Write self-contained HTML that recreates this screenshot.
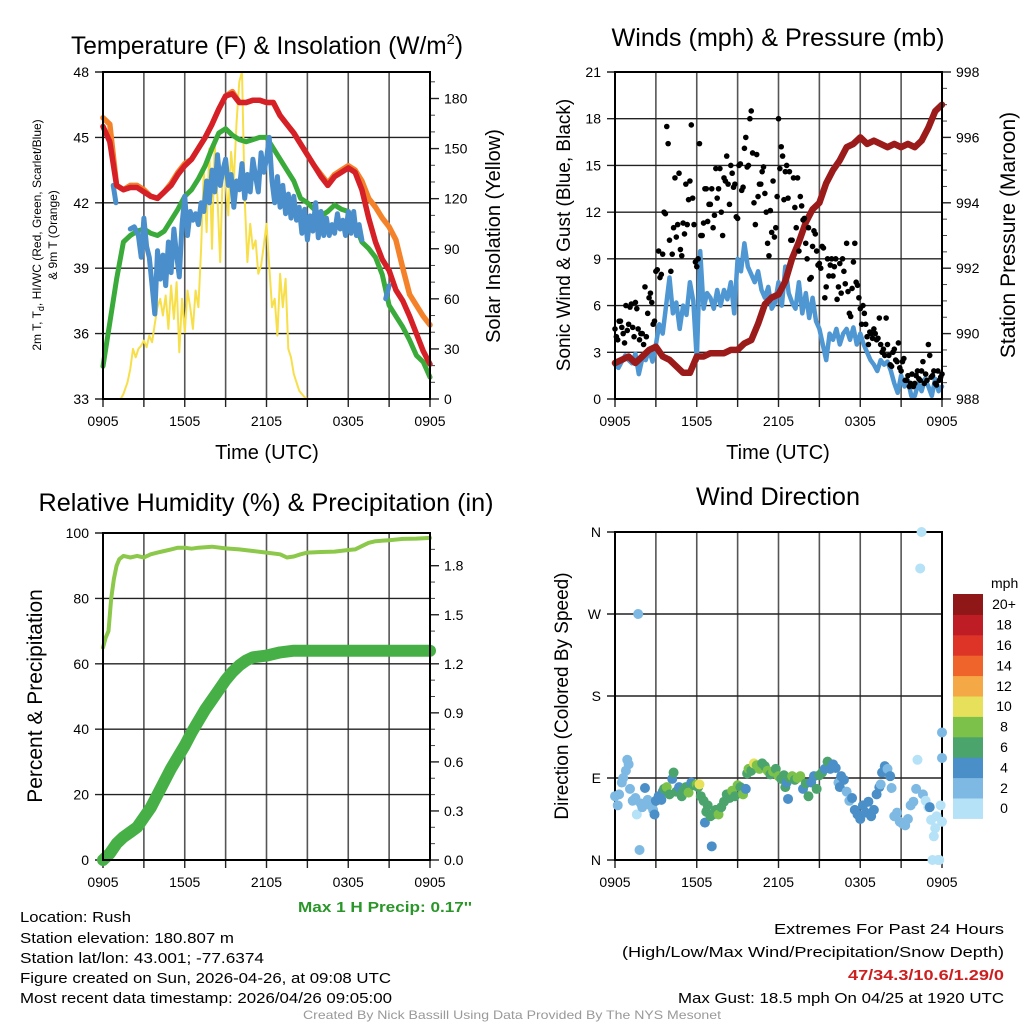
<!DOCTYPE html>
<html><head><meta charset="utf-8"><style>
html,body{margin:0;padding:0;background:#fff}
svg{display:block;font-family:"Liberation Sans",sans-serif}
</style></head><body>
<svg id="fig" width="1024" height="1024" viewBox="0 0 1024 1024" xmlns="http://www.w3.org/2000/svg">
<rect width="1024" height="1024" fill="#fff"/>
<g id="p1"></g>
<g id="p2"></g>
<g id="p3"></g>
<g id="p4"></g>
<g font-size="15">
<text x="472" y="912" text-anchor="end" fill="#2a962a" font-weight="bold" textLength="174" lengthAdjust="spacingAndGlyphs">Max 1 H Precip: 0.17''</text>
<text x="20" y="922" textLength="111" lengthAdjust="spacingAndGlyphs">Location: Rush</text>
<text x="20" y="943" textLength="214" lengthAdjust="spacingAndGlyphs">Station elevation: 180.807 m</text>
<text x="20" y="963" textLength="244" lengthAdjust="spacingAndGlyphs">Station lat/lon: 43.001; -77.6374</text>
<text x="20" y="983" textLength="371" lengthAdjust="spacingAndGlyphs">Figure created on Sun, 2026-04-26, at 09:08 UTC</text>
<text x="20" y="1003" textLength="372" lengthAdjust="spacingAndGlyphs">Most recent data timestamp: 2026/04/26 09:05:00</text>
<text x="1004" y="934" text-anchor="end" textLength="230" lengthAdjust="spacingAndGlyphs">Extremes For Past 24 Hours</text>
<text x="1004" y="957" text-anchor="end" textLength="382" lengthAdjust="spacingAndGlyphs">(High/Low/Max Wind/Precipitation/Snow Depth)</text>
<text x="1004" y="980" text-anchor="end" fill="#cc2020" font-weight="bold" textLength="156" lengthAdjust="spacingAndGlyphs">47/34.3/10.6/1.29/0</text>
<text x="1004" y="1003" text-anchor="end" textLength="326" lengthAdjust="spacingAndGlyphs">Max Gust: 18.5 mph On 04/25 at 1920 UTC</text>
<text x="512" y="1019" text-anchor="middle" fill="#999" font-size="12" textLength="418" lengthAdjust="spacingAndGlyphs">Created By Nick Bassill Using Data Provided By The NYS Mesonet</text>
</g>
</svg>
<script>
// ---------- data ----------
const timeTicks = ["0905","1505","2105","0305","0905"];
const tHalf = [0,0.5,1,1.5,2,2.5,3,3.5,4,4.5,5,5.5,6,6.5,7,7.5,8,8.5,9,9.5,10,10.5,11,11.5,12,12.5,13,13.5,14,14.5,15,15.5,16,16.5,17,17.5,18,18.5,19,19.5,20,20.5,21,21.5,22,22.5,23,23.5,24];
const tempRed = [45.5,44.8,42.8,42.6,42.7,42.7,42.5,42.3,42.2,42.5,42.8,43.3,43.7,44.0,44.5,45.0,45.6,46.3,46.9,47.0,46.6,46.6,46.7,46.7,46.6,46.6,46.0,45.6,45.2,44.7,44.2,43.7,43.2,42.8,43.2,43.4,43.6,43.4,42.6,41.3,40.2,39.4,38.9,38.0,37.5,36.8,36.0,35.2,34.6];
const tempOrange = [45.9,45.6,42.8,42.6,42.8,42.8,42.6,42.3,42.2,42.5,42.9,43.4,43.8,44.0,44.5,45.0,45.6,46.3,46.9,47.1,46.6,46.6,46.7,46.7,46.6,46.6,46.0,45.6,45.2,44.7,44.2,43.7,43.3,42.9,43.3,43.5,43.7,43.5,43.0,42.2,41.8,41.3,40.9,40.3,39.0,37.8,37.3,36.8,36.4];
const dewGreen = [34.5,36.5,38.5,40.2,40.5,40.7,40.8,40.6,40.5,40.7,41.2,41.7,42.3,42.6,43.1,43.7,44.5,45.2,45.4,45.1,44.9,44.8,44.9,45.0,45.0,44.5,44.0,43.5,43.0,42.2,42.0,41.7,41.4,41.6,41.9,41.7,41.6,41.0,40.2,39.9,39.5,38.7,37.3,36.8,36.3,35.7,35.0,34.7,34.0];
const blueT = [0.75,0.85,0.95,null,2.0,2.3,2.6,2.8,3.0,3.2,3.4,3.6,3.8,4.0,4.2,4.4,4.6,4.8,5.0,5.2,5.4,5.6,5.8,6.0,6.2,6.4,6.6,6.8,7.0,7.2,7.4,7.6,7.8,8.0,8.2,8.4,8.6,8.8,9.0,9.2,9.4,9.6,9.8,10.0,10.2,10.4,10.6,10.8,11.0,11.2,11.4,11.6,11.8,12.0,12.2,12.4,12.6,12.8,13.0,13.2,13.4,13.6,13.8,14.0,14.2,14.4,14.6,14.8,15.0,15.2,15.4,15.6,15.8,16.0,16.2,16.4,16.6,16.8,17.0,17.2,17.4,17.6,17.8,18.0,18.2,18.4,18.6,18.8,19.0,null,20.75,21.0];
const blueV = [42.8,42.4,42.0,null,40.8,40.9,40.5,39.5,41.3,40.0,39.5,38.2,36.9,39.8,38.5,39.6,38.2,40.2,38.8,40.8,39.6,38.6,41.0,42.3,40.5,41.6,41.2,41.5,41.0,42.0,41.6,43.0,42.0,43.5,42.5,44.2,42.8,43.5,44.0,42.8,43.3,41.8,43.0,42.6,43.8,42.2,43.3,42.5,44.0,43.2,42.5,44.3,43.4,44.0,45.0,43.0,42.0,43.2,41.8,42.8,41.5,42.4,41.3,42.3,41.2,41.8,40.6,41.7,40.3,41.4,40.7,42.0,40.4,41.6,40.5,41.3,40.5,41.0,40.6,41.5,40.8,41.2,40.5,41.6,40.6,41.6,40.5,41.0,40.3,null,37.6,38.2];
const solarT = [0,1.3,1.5,1.8,2.0,2.2,2.4,2.6,2.8,3.0,3.2,3.4,3.6,3.8,4.0,4.2,4.4,4.6,4.8,5.0,5.2,5.4,5.6,5.8,6.0,6.2,6.4,6.6,6.8,7.0,7.2,7.4,7.6,7.8,8.0,8.2,8.4,8.6,8.8,9.0,9.2,9.4,9.6,9.8,10.0,10.2,10.4,10.6,10.8,11.0,11.2,11.4,11.6,11.8,12.0,12.2,12.4,12.6,12.8,13.0,13.2,13.4,13.6,13.8,14.0,14.4,14.8,15.0,24];
const solarV = [0,0,3,10,18,30,25,30,32,35,31,38,34,45,55,60,50,62,42,68,48,70,28,60,40,65,55,42,65,55,90,137,100,150,90,153,120,82,140,130,110,148,130,165,190,196,120,82,105,90,95,75,80,92,105,80,55,60,38,75,55,72,30,25,15,5,1,0,0];
const pressT = tHalf;
const pressV = [989.1,989.2,989.3,989.1,989.3,989.5,989.6,989.3,989.2,989.0,988.8,988.8,989.3,989.3,989.4,989.4,989.4,989.5,989.5,989.7,989.8,990.3,990.9,991.1,991.2,991.6,992.3,992.8,993.4,993.8,994.0,994.6,995.0,995.3,995.7,995.8,996.0,995.8,995.9,995.8,995.7,995.8,995.7,995.8,995.7,995.9,996.3,996.8,997.0];
const windV = [2.2,2.0,2.4,2.8, 2.5,2.3,2.9,1.6, 2.6,2.5,3.2,2.4, 3.5,4.8,4.2,6.0, 7.8,5.5,6.2,4.5, 6.0,5.4,7.5,6.3, 2.5,9.5,5.8,6.8, 6.5,5.8,7.0,6.0, 7.0,6.4,7.5,5.5, 9.0,8.2,10.0,8.5, 8.0,7.5,8.2,7.0, 6.5,7.2,5.8,6.2, 7.5,6.0,8.5,6.8, 6.2,5.8,7.5,5.5, 6.8,5.2,6.5,5.0, 4.5,3.5,2.5,4.2, 3.8,4.5,3.5,4.2, 4.5,3.8,4.6,3.5, 4.2,3.5,3.0,2.5, 2.2,1.8,2.5,2.2, 2.4,1.8,1.0,0.4, 1.5,0.8,1.2,0.2, 0.2,1.0,0.5,1.3, 0.8,0.2,1.3,0.5, 0.8];
const gustV = [4.5,3.8,5.0,4.2,6.0, 4.8,6.1,4.0,5.8,3.8, 4.2,7.2,5.5,6.8,4.8, 8.2,9.5,8.0,12.0,17.5, 10.2,9.3,14.2,11.2,9.6, 11.3,13.8,12.8,17.6,11.2, 8.5,16.4,10.5,13.5,11.4, 12.5,11.0,14.8,13.5,12.0, 14.2,15.6,12.5,14.5,13.8, 11.6,15.1,13.6,16.8,15.0, 18.5,12.6,15.7,13.8,14.6, 13.2,10.0,12.1,14.0,11.0, 18.0,16.2,12.8,15.0,14.6, 10.2,12.3,14.2,13.0,11.5, 10.0,11.0,7.8,10.8,9.5, 8.7,9.8,6.5,9.0,8.6, 7.9,9.0,7.2,6.8,8.2, 10.0,5.5,7.1,10.0,7.3, 5.8,6.0,4.8,3.5,4.2, 4.5,3.8,5.2,3.0,2.8, 3.5,2.2,3.0,2.5,3.6, 1.8,2.6,1.2,0.8,1.6, 1.0,1.8,1.2,2.4,1.6, 3.5,1.4,1.8,0.9,1.2, 1.6];
const gustV2 = [4.0,5.0,4.6,3.6,4.4, 5.9,4.6,6.2,4.5,4.2, 3.5,4.0,6.5,6.2,5.0, 8.3,7.8,9.3,11.9,16.4, 8.2,11.0,10.4,14.5,9.2, 10.6,11.2,14.0,12.9,8.8, 9.0,10.5,11.3,13.5,12.5, 13.5,11.8,12.9,14.8,10.5, 14.0,13.8,15.0,13.6,11.7, 15.0,13.4,16.1,14.9,18.0, 15.8,11.2,13.0,13.8,14.9, 12.0,9.2,10.7,10.4,13.0, 14.8,15.6,14.6,12.9,10.2, 14.2,11.0,9.5,12.4,11.6, 9.0,7.7,9.8,10.6,8.6, 8.4,9.7,7.2,7.9,9.0, 8.5,6.4,8.7,9.0,7.4, 6.9,5.3,8.8,7.5,6.5, 4.8,5.5,4.0,4.3,3.9, 4.2,3.9,3.5,3.2,5.2, 2.8,2.1,3.2,2.4,2.0, 2.4,1.2,1.5,1.0,0.8, 1.5,1.3,1.8,1.0,1.2, 2.8,1.5,1.0,1.8,1.4];
const rhT = [0,0.2,0.4,0.6,0.8,1.0,1.2,1.5,2,2.5,3,3.5,4,4.5,5,5.5,6,6.5,7,8,9,10,11,12,13,13.5,14,14.5,15,16,17,18,18.5,19,19.5,20,21,22,23,24];
const rhV = [65,68,70,80,86,90,92,93,92.5,93,92.5,93.5,94,94.5,95,95.5,95.5,95.2,95.5,95.8,95.3,95,94.5,94,93.5,92.5,92.8,93.5,94,94.2,94.3,94.8,95,96,97,97.5,97.8,98.2,98.3,98.5];
const precipT = [0,0.5,1,1.5,2,2.5,3,3.5,4,4.5,5,5.5,6,6.5,7,7.5,8,8.5,9,9.5,10,10.5,11,12,13,14,24];
const precipV = [0,0.04,0.1,0.14,0.17,0.2,0.26,0.32,0.4,0.48,0.56,0.63,0.7,0.78,0.85,0.92,0.98,1.04,1.1,1.15,1.19,1.22,1.24,1.25,1.27,1.28,1.28];
const dirT = [0.0,0.2,0.3,0.5,0.6,0.8,0.9,1.0,1.1,1.3,1.5,1.6,1.7,1.8,1.9,2.0,2.2,2.4,2.6,2.8,2.9,3.0,3.2,3.4,3.5,3.6,3.8,4.0,4.2,4.3,4.5,4.7,4.9,5.0,5.2,5.4,5.6,5.8,6.0,6.1,6.2,6.3,6.5,6.6,6.7,6.8,7.0,7.1,7.2,7.4,7.6,7.8,8.0,8.2,8.4,8.6,8.8,9.0,9.2,9.4,9.6,9.7,9.8,10.0,10.2,10.4,10.6,10.8,11.0,11.2,11.4,11.6,11.8,12.0,12.2,12.4,12.5,12.6,12.7,12.8,13.0,13.2,13.4,13.6,13.8,14.0,14.2,14.4,14.6,14.8,15.0,15.2,15.4,15.6,15.8,16.0,16.2,16.4,16.5,16.6,16.8,17.0,17.2,17.4,17.6,17.8,18.0,18.2,18.4,18.6,18.8,19.0,19.2,19.4,19.5,19.6,19.8,20.0,20.2,20.3,20.5,20.7,20.9,21.1,21.3,21.5,21.7,21.9,22.1,22.2,22.4,22.5,22.6,22.8,23.0,23.1,23.2,23.3,23.4,23.5,23.6,23.7,23.8,23.9,24.0,24.0,24.0];
const dirD = [70,60,72,85,90,98,110,105,78,65,68,50,270,11,62,58,79,66,60,55,50,65,70,66,75,78,80,72,89,96,75,80,70,76,80,74,85,82,83,80,83,70,65,41,53,60,48,15,50,55,50,58,64,72,68,76,70,82,80,72,78,95,100,98,106,104,100,106,103,98,94,97,100,92,89,93,80,85,67,90,92,88,90,92,78,84,70,85,92,78,93,96,100,108,100,105,101,85,80,92,88,75,65,68,55,50,45,60,52,64,48,55,72,80,83,96,103,100,92,79,48,52,42,40,38,45,60,64,78,110,320,360,72,65,58,58,44,0,26,35,48,0,0,60,42,140,112];
const dirS = [2,2,2,2,2,2,2,2,2,2,2,1,2,2,2,2,4,2,2,2,4,4,4,4,4,6,8,6,4,6,6,4,6,6,6,8,4,6,8,6,10,6,6,4,6,6,6,4,6,6,8,6,6,6,6,8,6,8,6,8,4,6,8,6,10,8,8,6,6,8,6,8,6,8,6,6,6,4,4,6,8,6,8,8,4,6,6,4,4,6,6,6,4,6,4,4,4,2,4,4,4,2,2,4,4,4,4,4,4,4,4,4,4,4,2,4,4,2,4,2,2,2,2,2,2,2,2,2,2,1,1,1,2,1,1,4,1,1,1,1,1,1,1,1,1,2,2];
const speedLabels = ["0","2","4","6","8","10","12","14","16","18","20+"];
const speedColors = ["#b5e2f7","#7db9e3","#4a8fc7","#4aa46c","#7cc24a","#e7e05a","#f5a946","#ef642b","#dd3427","#bf1d25","#8f1717"];

// ---------- helpers ----------
const NS = "http://www.w3.org/2000/svg";
function mk(parent, tag, attrs, text){
  const e = document.createElementNS(NS, tag);
  for (const k in attrs) e.setAttribute(k, attrs[k]);
  if (text !== undefined) e.textContent = text;
  parent.appendChild(e);
  return e;
}
function scale(d0,d1,r0,r1){ return v => r0 + (v-d0)/(d1-d0)*(r1-r0); }
function pathFrom(ts, vs, xs, ys){
  let d = "", pen = false;
  for (let i=0;i<ts.length;i++){
    if (ts[i]===null || vs[i]===null){ pen=false; continue; }
    d += (pen ? "L" : "M") + xs(ts[i]).toFixed(1) + "," + ys(vs[i]).toFixed(1);
    pen = true;
  }
  return d;
}

function frame(g, X0, X1, Y0, Y1, leftTicks, leftFmt, ly, rightTicks, rightFmt, ry, minorRight){
  const xs = scale(0,24,X0,X1);
  const gg = mk(g,"g",{});
  
  
  for (let h=3; h<24; h+=3){
    const gl = mk(gg,"line",{x1:xs(h),x2:xs(h),y1:Y0,y2:Y1,stroke:"#555","stroke-width":1.6});
    
    
  }
  leftTicks.forEach(v=>{
    const y = ly(v);
    const hl = mk(gg,"line",{x1:X0-8,x2:X1,y1:y,y2:y,stroke:"#222","stroke-width":1.4});
    
    
    const tl = mk(g,"text",{x:X0-14,y:y+5,"text-anchor":"end","font-size":14},leftFmt(v));
    
    
  });
  if (rightTicks){
    rightTicks.forEach(v=>{
      const y = ry(v);
      mk(g,"line",{x1:X1,x2:X1+9,y1:y,y2:y,stroke:"#222","stroke-width":1.4});
      const tl = mk(g,"text",{x:X1+14,y:y+5,"font-size":14},rightFmt(v));
      
      
    });
    if (minorRight){
      minorRight.forEach(v=>{ const y=ry(v); if(y>=Y0-0.5) mk(g,"line",{x1:X1,x2:X1+5,y1:y,y2:y,stroke:"#444","stroke-width":1}); });
    }
  }
  for (let h=0; h<=24; h+=3){
    mk(g,"line",{x1:xs(h),x2:xs(h),y1:Y1,y2:Y1+8,stroke:"#222","stroke-width":1.4});
  }
  timeTicks.forEach((lab,i)=>{
    const tl = mk(g,"text",{x:xs(i*6),y:Y1+27,"text-anchor":"middle","font-size":14},lab);
    
    
  });
  const fr = mk(g,"rect",{x:X0,y:Y0,width:X1-X0,height:Y1-Y0,fill:"none",stroke:"#000","stroke-width":2});
  
  
  return xs;
}
function txt(g, attrs, s, name){
  const t = mk(g,"text",attrs,s);
  
  
  return t;
}
function line(g, d, color, w, name){
  const p = mk(g,"path",{d:d,fill:"none",stroke:color,"stroke-width":w,"stroke-linejoin":"round","stroke-linecap":"round"});
  
  
  return p;
}

// ---------- panel 1 ----------
(function(){
  const g = document.getElementById("p1");
  const X0=103,X1=430,Y0=72,Y1=399;
  const ly = scale(33,48,Y1,Y0);
  const ry = scale(0,180,Y1,98.5);
  const xs = frame(g,X0,X1,Y0,Y1,[33,36,39,42,45,48],v=>v,ly,[0,30,60,90,120,150,180],v=>v,ry,[10,20,40,50,70,80,100,110,130,140,160,170,190]);
  line(g, pathFrom(solarT,solarV,xs,ry), "#f7df4a", 2, "solar-insolation-line");
  line(g, pathFrom(tHalf,dewGreen,xs,ly), "#3aab3a", 5, "dewpoint-line");
  line(g, pathFrom(blueT,blueV,xs,ly), "#4a8fcb", 5, "wind-chill-line");
  line(g, pathFrom(tHalf,tempOrange,xs,ly), "#f4822a", 5.5, "temp-9m-line");
  line(g, pathFrom(tHalf,tempRed,xs,ly), "#d62027", 5.5, "temp-2m-line");
  mk(g,"rect",{x:X0,y:Y0,width:X1-X0,height:Y1-Y0,fill:"none",stroke:"#000","stroke-width":2});
  const t = txt(g,{x:267,y:54,"text-anchor":"middle","font-size":25,textLength:392,lengthAdjust:"spacingAndGlyphs"},"Temperature (F) & Insolation (W/m","panel-title");
  mk(t,"tspan",{"font-size":15,dy:-10},"2");
  mk(t,"tspan",{dy:10},")");
  txt(g,{x:267,y:459,"text-anchor":"middle","font-size":20},"Time (UTC)","x-axis-title");
  const yl = txt(g,{x:0,y:0,"text-anchor":"middle","font-size":12,transform:"translate(41,235) rotate(-90)"},"2m T, T","y-axis-title-line1");
  mk(yl,"tspan",{"font-size":9,dy:3},"d");
  mk(yl,"tspan",{dy:-3},", HI/WC (Red, Green, Scarlet/Blue)");
  txt(g,{x:0,y:0,"text-anchor":"middle","font-size":12,transform:"translate(57,235) rotate(-90)"},"& 9m T (Orange)","y-axis-title-line2");
  txt(g,{x:0,y:0,"text-anchor":"middle","font-size":20,transform:"translate(500,236) rotate(-90)"},"Solar Insolation (Yellow)","right-axis-title");
})();

// ---------- panel 2 ----------
(function(){
  const g = document.getElementById("p2");
  const X0=615,X1=942,Y0=72,Y1=399;
  const ly = scale(0,21,Y1,Y0);
  const ry = scale(988,998,Y1,Y0);
  const xs = frame(g,X0,X1,Y0,Y1,[0,3,6,9,12,15,18,21],v=>v,ly,[988,990,992,994,996,998],v=>v,ry,[988.5,989,989.5,990.5,991,991.5,992.5,993,993.5,994.5,995,995.5,996.5,997,997.5]);
  const wT = windV.map((_,i)=>i*0.25);
  line(g, pathFrom(wT,windV,xs,ly), "#4f97d2", 4.5, "sonic-wind-line");
  line(g, pathFrom(pressT,pressV,xs,ry), "#9b1b1b", 6.5, "pressure-line");
  const dg = mk(g,"g",{fill:"#000"});
  
  
  gustV.forEach((v,i)=>{
    const c = mk(dg,"circle",{cx:xs(i*0.2),cy:ly(v),r:2.8});
    
    
  });
  gustV2.forEach((v,i)=>{
    const c = mk(dg,"circle",{cx:xs(0.1+i*0.2),cy:ly(v),r:2.8});
    
    
  });
  mk(g,"rect",{x:X0,y:Y0,width:X1-X0,height:Y1-Y0,fill:"none",stroke:"#000","stroke-width":2});
  txt(g,{x:778,y:46,"text-anchor":"middle","font-size":25,textLength:333,lengthAdjust:"spacingAndGlyphs"},"Winds (mph) & Pressure (mb)","panel-title");
  txt(g,{x:778,y:459,"text-anchor":"middle","font-size":20},"Time (UTC)","x-axis-title");
  txt(g,{x:0,y:0,"text-anchor":"middle","font-size":19,transform:"translate(570,235) rotate(-90)"},"Sonic Wind & Gust (Blue, Black)","y-axis-title");
  txt(g,{x:0,y:0,"text-anchor":"middle","font-size":21,transform:"translate(1015,235) rotate(-90)"},"Station Pressure (Maroon)","right-axis-title");
})();

// ---------- panel 3 ----------
(function(){
  const g = document.getElementById("p3");
  const X0=103,X1=430,Y0=533,Y1=860;
  const ly = scale(0,100,Y1,Y0);
  const ry = scale(0,2.0,Y1,Y0);
  const xs = frame(g,X0,X1,Y0,Y1,[0,20,40,60,80,100],v=>v,ly,[0,0.3,0.6,0.9,1.2,1.5,1.8],v=>v.toFixed(1),ry,[0.1,0.2,0.4,0.5,0.7,0.8,1.0,1.1,1.3,1.4,1.6,1.7,1.9]);
  line(g, pathFrom(precipT,precipV,xs,ry), "#46b046", 12, "precipitation-line");
  line(g, pathFrom(rhT,rhV,xs,ly), "#8cc84a", 4, "relative-humidity-line");
  mk(g,"rect",{x:X0,y:Y0,width:X1-X0,height:Y1-Y0,fill:"none",stroke:"#000","stroke-width":2});
  txt(g,{x:266,y:511,"text-anchor":"middle","font-size":25,textLength:455,lengthAdjust:"spacingAndGlyphs"},"Relative Humidity (%) & Precipitation (in)","panel-title");
  txt(g,{x:0,y:0,"text-anchor":"middle","font-size":21,transform:"translate(42,696) rotate(-90)"},"Percent & Precipitation","y-axis-title");
})();

// ---------- panel 4 ----------
(function(){
  const g = document.getElementById("p4");
  const X0=615,X1=942,Y0=532,Y1=860;
  const ly = scale(0,360,Y1,Y0);
  const xs = frame(g,X0,X1,Y0,Y1,[0,90,180,270,360],v=>["N","E","S","W","N"][v/90],ly,null);
  const dg = mk(g,"g",{});
  
  
  dirT.forEach((t,i)=>{
    const bin = Math.min(10, Math.floor(dirS[i]/2));
    const c = mk(dg,"circle",{cx:xs(t),cy:ly(dirD[i]),r:5,fill:speedColors[bin]});
    
    
  });
  txt(g,{x:778,y:505,"text-anchor":"middle","font-size":25,textLength:164,lengthAdjust:"spacingAndGlyphs"},"Wind Direction","panel-title");
  txt(g,{x:0,y:0,"text-anchor":"middle","font-size":19,transform:"translate(568,696) rotate(-90)"},"Direction (Colored By Speed)","y-axis-title");
  const cb = mk(g,"g",{});
  
  
  txt(cb,{x:991,y:588,"font-size":14},"mph","colorbar-title");
  const bx=953, bw=30, top=594, bh=20.4;
  speedColors.forEach((c,i)=>{
    const y = top + (10-i)*bh;
    const r = mk(cb,"rect",{x:bx,y:y,width:bw,height:bh+0.5,fill:c});
    
    
    txt(cb,{x:1004,y:y+bh/2+5,"text-anchor":"middle","font-size":14},speedLabels[i],"colorbar-label");
  });
})();
</script>
</body></html>
